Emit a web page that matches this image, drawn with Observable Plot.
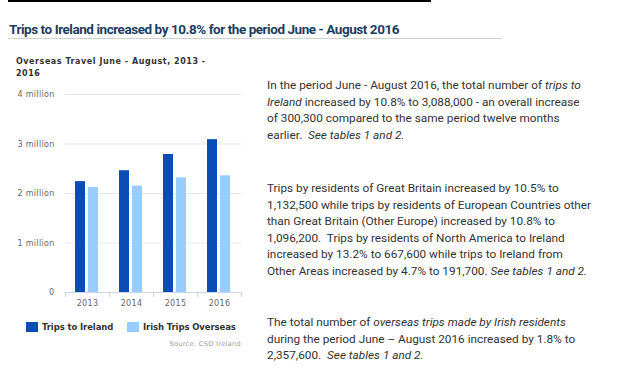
<!DOCTYPE html>
<html>
<head>
<meta charset="utf-8">
<script src="https://cdn.jsdelivr.net/npm/d3@7"></script>
<script src="https://cdn.jsdelivr.net/npm/@observablehq/plot@0.6"></script>
<style>
  html, body { margin: 0; padding: 0; background: #fff; width: 622px; height: 386px; overflow: hidden; position: relative; }
  .topline { position: absolute; left: 8px; top: 0px; width: 423px; height: 2px; background: #000; }
  .title { position: absolute; left: 9px; top: 21px; font-family: Roboto, sans-serif; font-weight: bold; font-size: 13.5px; letter-spacing: -0.45px; color: #1c3d5f; white-space: nowrap; }
  .rule { position: absolute; left: 8px; top: 38px; width: 494px; height: 1px; background: #d0d0d0; }
  .subtitle { position: absolute; left: 16px; top: 56px; width: 190px; font-family: "DejaVu Sans", sans-serif; font-weight: bold; font-size: 8px; letter-spacing: 0.55px; line-height: 12px; color: #333; }
  #chart { position: absolute; left: 0px; top: 85px; }
  .legend { position: absolute; top: 322px; font-family: "DejaVu Sans", sans-serif; font-weight: bold; font-size: 8.5px; letter-spacing: -0.1px; color: #333; white-space: nowrap; display: flex; align-items: center; }
  .legend span.sw { display: inline-block; width: 12px; height: 10px; margin-right: 4px; }
  .source { position: absolute; top: 340px; right: 381px; font-family: "DejaVu Sans", sans-serif; font-size: 6.5px; letter-spacing: 0.35px; color: #999; white-space: nowrap; }
  .para { position: absolute; left: 267px; font-family: Roboto, sans-serif; font-size: 11.8px; line-height: 16.6px; color: #333; white-space: nowrap; }
  .para i { font-style: italic; }
</style>
</head>
<body>
<div class="topline"></div>
<div class="title">Trips to Ireland increased by 10.8% for the period June - August 2016</div>
<div class="rule"></div>
<div class="subtitle">Overseas Travel June - August, 2013 - 2016</div>
<div id="chart"></div>
<div class="legend" style="left:26px"><span class="sw" style="background:#0a4db5"></span>Trips to Ireland</div>
<div class="legend" style="left:127px"><span class="sw" style="background:#99ccff"></span>Irish Trips Overseas</div>
<div class="source">Source: CSO Ireland</div>

<div class="para" style="top:77px">In the period June - August 2016, the total number of <i>trips to</i><br><i>Ireland</i> increased by 10.8% to 3,088,000 - an overall increase<br>of 300,300 compared to the same period twelve months<br>earlier.&nbsp; <i>See tables 1 and 2.</i></div>
<div class="para" style="top:180px">Trips by residents of Great Britain increased by 10.5% to<br>1,132,500 while trips by residents of European Countries other<br>than Great Britain (Other Europe) increased by 10.8% to<br>1,096,200.&nbsp; Trips by residents of North America to Ireland<br>increased by 13.2% to 667,600 while trips to Ireland from<br>Other Areas increased by 4.7% to 191,700. <i>See tables 1 and 2.</i></div>
<div class="para" style="top:314px">The total number of <i>overseas trips made by Irish residents</i><br>during the period June – August 2016 increased by 1.8% to<br>2,357,600.&nbsp; <i>See tables 1 and 2.</i></div>

<script>
const years = ["2013", "2014", "2015", "2016"];
const seriesNames = ["Trips to Ireland", "Irish Trips Overseas"];
const tripsToIreland = [2240000, 2460000, 2787700, 3088000];
const irishTripsOverseas = [2120000, 2150000, 2316000, 2357600];
const seriesColors = ["#0a4db5", "#99ccff"];
const yTicks = [0, 1000000, 2000000, 3000000, 4000000];

const data = [];
years.forEach((yr, i) => {
  data.push({year: yr, series: seriesNames[0], value: tripsToIreland[i]});
  data.push({year: yr, series: seriesNames[1], value: irishTripsOverseas[i]});
});

const font = "DejaVu Sans, sans-serif";
const chart = Plot.plot({
  width: 250,
  height: 225,
  marginLeft: 63,
  marginRight: 8,
  marginTop: 9,
  marginBottom: 18,
  style: {fontFamily: font, fontSize: "8px", background: "transparent", letterSpacing: "0.3px"},
  fx: {domain: years, padding: 0, label: null, axis: null},
  x: {domain: seriesNames, paddingInner: 0.22, paddingOuter: 0.76, axis: null},
  y: {domain: [0, 4000000], ticks: yTicks, label: null},
  color: {domain: seriesNames, range: seriesColors},
  marks: [
    Plot.gridY(yTicks, {stroke: "#e6e6e6", strokeOpacity: 1}),
    Plot.axisY(yTicks, {tickSize: 0, tickPadding: 11, fill: "#666", label: null,
      tickFormat: d => d === 0 ? "0" : (d / 1e6) + " million"}),
    Plot.barY(data, {fx: "year", x: "series", y: "value", fill: "series"}),
    Plot.ruleY([0], {stroke: "#ccd6eb"}),
    Plot.axisFx({anchor: "bottom", tickSize: 0, tickPadding: 8, fill: "#666", label: null}),
  ]
});
document.getElementById("chart").appendChild(chart);

// tick marks at category boundaries, using the fx scale
const fx = chart.scale("fx");
const yS = chart.scale("y");
const svg = d3.select(chart);
const edges = years.map(y => fx.apply(y)).concat([fx.apply(years[years.length - 1]) + fx.step]);
const y0 = yS.apply(0);
svg.append("g").selectAll("line").data(edges).join("line")
  .attr("x1", d => d + 0.5).attr("x2", d => d + 0.5)
  .attr("y1", y0).attr("y2", y0 + 5)
  .attr("stroke", "#ccd6eb");
</script>
</body>
</html>
